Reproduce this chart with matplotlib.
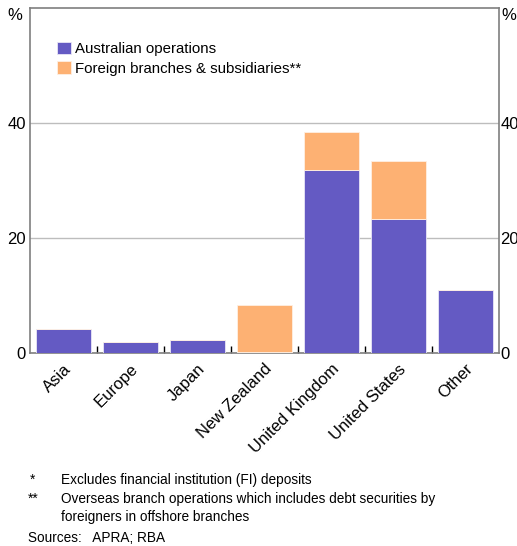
import numpy as np
import matplotlib.pyplot as plt

plt.rcParams['font.family'] = ['Liberation Sans', 'DejaVu Sans']

regions = ['Asia', 'Europe', 'Japan', 'New Zealand', 'United Kingdom', 'United States', 'Other']
australian = [4.2, 1.85, 2.2, 0.2, 31.9, 23.3, 11.0]
foreign = [0.0, 0.0, 0.0, 8.1, 6.6, 10.1, 0.0]
yticks = [0, 20, 40]

purple = '#645AC3'
orange = '#FDB173'

fig = plt.figure(figsize=(5.17, 5.46), dpi=100)
ax = fig.add_axes([30/517, 1 - 353/546, 469/517, 345/546])

x = np.arange(len(regions))
ax.bar(x, australian, width=0.83, color=purple, edgecolor='#E8E6F6', linewidth=0.6,
       label='Australian operations', zorder=3)
ax.bar(x, foreign, width=0.83, bottom=australian, color=orange, edgecolor='#FFF0E2',
       linewidth=0.6, label='Foreign branches & subsidiaries**', zorder=3)

ax.set_xlim(-0.5, len(regions) - 0.5)
ax.set_ylim(0, 60)
ax.set_yticks(yticks)
ax.tick_params(axis='y', length=0, labelsize=12, pad=3, colors='black')
ax.grid(axis='y', color='#BDBDBD', linewidth=1, zorder=0)

# category ticks between bars, labels at centres
ax.set_xticks(x[:-1] + 0.5)
ax.set_xticklabels([])
ax.tick_params(axis='x', which='major', direction='in', length=5, width=1, color='black')
ax.set_xticks(x, minor=True)
ax.set_xticklabels(regions, minor=True, rotation=45, ha='right', rotation_mode='anchor', fontsize=12)
ax.tick_params(axis='x', which='minor', length=0, pad=6)

for sp in ax.spines.values():
    sp.set_color('#7F7F7F')
    sp.set_linewidth(1.2)

ax2 = ax.twinx()
ax2.set_ylim(0, 60)
ax2.set_yticks(yticks)
ax2.tick_params(axis='y', length=0, labelsize=12, pad=1)
for sp in ax2.spines.values():
    sp.set_visible(False)

fig.text(15/517, 1 - 16/546, '%', ha='center', va='center', fontsize=12)
fig.text(509/517, 1 - 16/546, '%', ha='center', va='center', fontsize=12)

ax.legend(loc='upper left', bbox_to_anchor=(0.045, 0.92), frameon=False, fontsize=10.8,
          handlelength=0.9, handleheight=0.9, handletextpad=0.3, labelspacing=0.35,
          borderaxespad=0)

fs = 9.8
fig.text(30/517, 1 - 480/546, '*', fontsize=fs, va='center')
fig.text(61/517, 1 - 480/546, 'Excludes financial institution (FI) deposits', fontsize=fs, va='center')
fig.text(28/517, 1 - 499/546, '**', fontsize=fs, va='center')
fig.text(61/517, 1 - 499/546, 'Overseas branch operations which includes debt securities by', fontsize=fs, va='center')
fig.text(61/517, 1 - 517/546, 'foreigners in offshore branches', fontsize=fs, va='center')
fig.text(28/517, 1 - 538/546, 'Sources:   APRA; RBA', fontsize=fs, va='center')

fig.savefig('out.png', dpi=100)
